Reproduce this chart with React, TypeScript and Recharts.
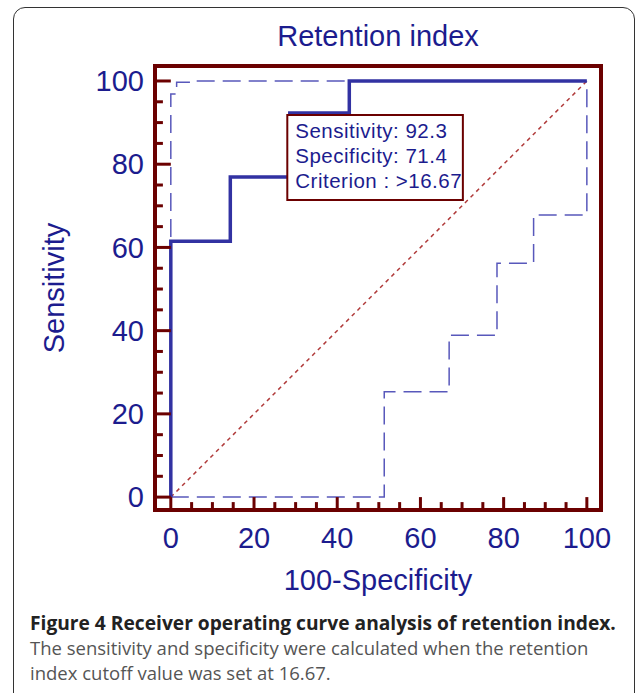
import React from 'react';
import { ComposedChart, Line, XAxis, YAxis, ReferenceArea, ReferenceLine, Label } from 'recharts';

const majorTicks = [0, 20, 40, 60, 80, 100];
const minorTicks = [5, 10, 15, 25, 30, 35, 45, 50, 55, 65, 70, 75, 85, 90, 95];

// ROC operating points (100-specificity, sensitivity)
const rocX = [0, 0, 14.3, 28.6, 42.9, 100];
const rocY = [0, 61.5, 76.9, 92.3, 100, 100];
// confidence bounds
const upperX = [0, 0, 1.4, 5, 100];
const upperY = [0, 96.9, 99.7, 100, 100];
const lowerX = [0, 51.3, 66.9, 78.4, 87.2, 100];
const lowerY = [0, 25.3, 38.9, 56.2, 67.8, 100];
// reference diagonal
const diagX = [0, 100];
const diagY = [0, 100];

const boxLines = ['Sensitivity: 92.3', 'Specificity: 71.4', 'Criterion : >16.67'];

const toPoints = (xs: number[], ys: number[]) => xs.map((x, i) => ({ x, y: ys[i] }));

const X_DOM: [number, number] = [-3.8, 103.4];
const Y_DOM: [number, number] = [-3.1, 103.6];

const FRAME = '#6b0000';
const NAVY = '#1c1c8e';
const CHART_FONT = '"Liberation Sans", Arial, sans-serif';

const renderBox = (props: any) => {
  const { x, y } = props.viewBox;
  return (
    <g>
      {boxLines.map((t, i) => (
        <text key={t} x={x + 8} y={y + 23 + i * 25} fill={NAVY} fontSize={20.5} letterSpacing={0.5} fontFamily={CHART_FONT}>
          {t}
        </text>
      ))}
    </g>
  );
};

export default function App() {
  return (
    <div style={{ position: 'absolute', left: 0, top: 0, width: 636, height: 693, overflow: 'hidden', background: '#fff' }}>
      <div
        style={{
          position: 'absolute', left: 13, top: 7, width: 620, height: 720,
          border: '1.5px solid #333', borderRadius: 12,
        }}
      />
      <div
        style={{
          position: 'absolute', left: 155, top: 22, width: 446, textAlign: 'center',
          fontFamily: CHART_FONT, fontSize: 29, lineHeight: '29px', color: NAVY,
        }}
      >
        Retention index
      </div>
      <div style={{ position: 'absolute', left: 0, top: 0 }}>
        <ComposedChart width={636} height={600} margin={{ top: 66, right: 35, left: 55, bottom: 10 }}>
          <XAxis
            type="number" dataKey="x" domain={X_DOM} allowDataOverflow ticks={majorTicks}
            tickLine={false} axisLine={false} tickSize={0} tickMargin={17} height={80}
            tick={{ fill: NAVY, fontSize: 29, fontFamily: CHART_FONT }}
          >
            <Label value="100-Specificity" position="center" dy={30} fill={NAVY} fontSize={29} fontFamily={CHART_FONT} />
          </XAxis>
          <YAxis
            type="number" dataKey="y" domain={Y_DOM} allowDataOverflow ticks={majorTicks}
            tickLine={false} axisLine={false} tickSize={0} tickMargin={11} width={100}
            tick={{ fill: NAVY, fontSize: 29, fontFamily: CHART_FONT }}
          >
            <Label value="Sensitivity" position="center" angle={-90} dx={-51} fill={NAVY} fontSize={29} fontFamily={CHART_FONT} />
          </YAxis>

          <Line data={toPoints(diagX, diagY)} dataKey="y" type="linear" stroke="#b03a3a" strokeWidth={1.5}
            strokeDasharray="4 4" dot={false} activeDot={false} isAnimationActive={false} />
          <Line data={toPoints(upperX, upperY)} dataKey="y" type="stepAfter" stroke="#5858bb" strokeWidth={1.5}
            strokeDasharray="18 8" dot={false} activeDot={false} isAnimationActive={false} />
          <Line data={toPoints(lowerX, lowerY)} dataKey="y" type="stepAfter" stroke="#5858bb" strokeWidth={1.5}
            strokeDasharray="18 8" dot={false} activeDot={false} isAnimationActive={false} />
          <Line data={toPoints(rocX, rocY)} dataKey="y" type="stepAfter" stroke="#3232a2" strokeWidth={3.5}
            dot={false} activeDot={false} isAnimationActive={false} />

          {majorTicks.map((v) => (
            <ReferenceLine key={'ym' + v} ifOverflow="visible" stroke={FRAME} strokeWidth={3}
              segment={[{ x: X_DOM[0], y: v }, { x: 0, y: v }]} />
          ))}
          {minorTicks.map((v) => (
            <ReferenceLine key={'yn' + v} ifOverflow="visible" stroke={FRAME} strokeWidth={3}
              segment={[{ x: X_DOM[0], y: v }, { x: X_DOM[0] + 1.9, y: v }]} />
          ))}
          {majorTicks.map((v) => (
            <ReferenceLine key={'xm' + v} ifOverflow="visible" stroke={FRAME} strokeWidth={3}
              segment={[{ x: v, y: Y_DOM[0] }, { x: v, y: 0 }]} />
          ))}
          {minorTicks.map((v) => (
            <ReferenceLine key={'xn' + v} ifOverflow="visible" stroke={FRAME} strokeWidth={3}
              segment={[{ x: v, y: Y_DOM[0] }, { x: v, y: Y_DOM[0] + 1.9 }]} />
          ))}

          <ReferenceArea x1={X_DOM[0]} x2={X_DOM[1]} y1={Y_DOM[0]} y2={Y_DOM[1]} ifOverflow="visible"
            fill="none" stroke={FRAME} strokeWidth={4} />
          <ReferenceArea x1={28} x2={70.2} y1={71.4} y2={91.8} ifOverflow="visible" zIndex={600}
            fill="#fff" fillOpacity={1} stroke={FRAME} strokeWidth={2}>
            <Label content={renderBox} />
          </ReferenceArea>
        </ComposedChart>
      </div>
      <div
        style={{
          position: 'absolute', left: 30, top: 610, width: 606, whiteSpace: 'nowrap',
          fontFamily: '"Open Sans", sans-serif', fontSize: 18.5, lineHeight: '25px', color: '#555',
        }}
      >
        <div style={{ fontWeight: 700, color: '#222', fontSize: 19.2 }}>Figure 4 Receiver operating curve analysis of retention index.</div>
        <div>The sensitivity and specificity were calculated when the retention</div>
        <div>index cutoff value was set at 16.67.</div>
      </div>
    </div>
  );
}
